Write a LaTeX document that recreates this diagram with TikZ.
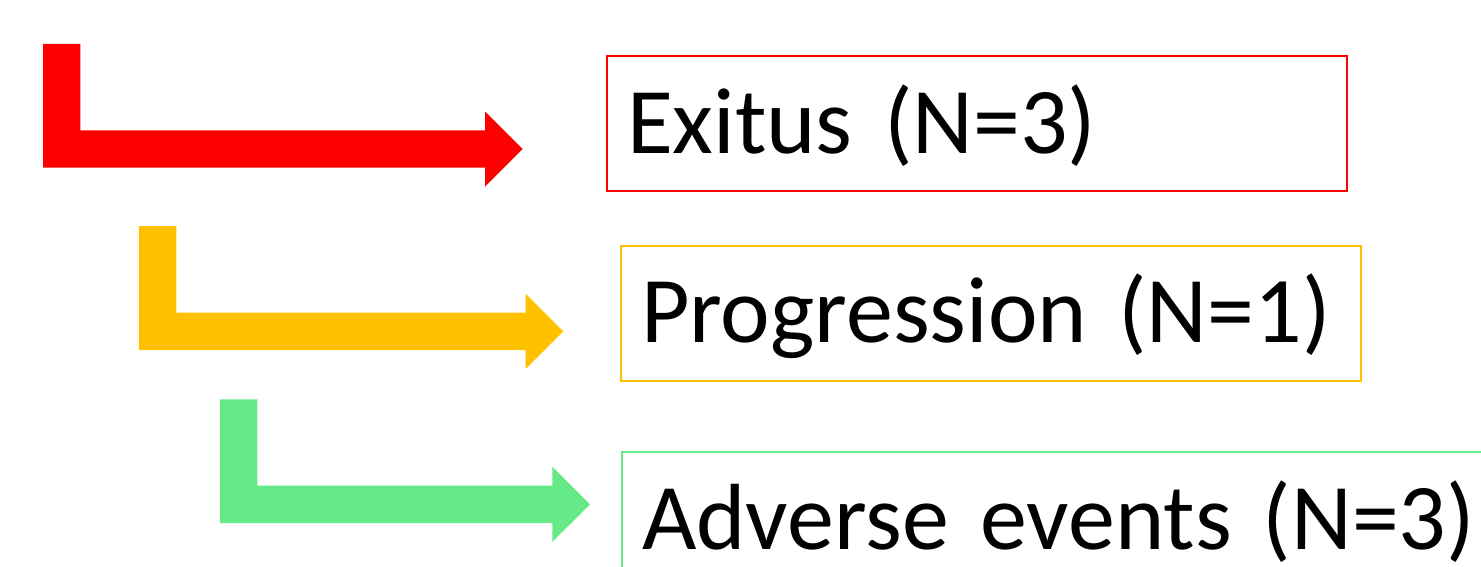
\documentclass[tikz,border=0pt]{standalone}
\usepackage{fontspec}
\setmainfont{Carlito}
\usepackage{tikz}
\usepackage{xcolor}
\definecolor{exitred}{HTML}{FF0000}
\definecolor{progyellow}{HTML}{FFC000}
\definecolor{advgreen}{HTML}{66EA88}

\begin{document}
\begin{tikzpicture}[x=1pt,y=-1pt,
    box/.style={draw=#1,line width=2pt,anchor=north west,inner xsep=20pt,inner ysep=0pt,
        minimum height=135pt,align=left,text height=70.5pt,text depth=11.1pt,
        font=\fontsize{94}{110}\selectfont}]
    \useasboundingbox (0,0) rectangle (1481,567);
    \clip (0,0) rectangle (1481,567);
    % bent arrows: left x / top y / middle y / tip x / colour
    \foreach \x/\t/\m/\e/\c in {43/44/149/522.7/exitred,
                               139/226/331.3/563.3/progyellow,
                               220/399.3/504.3/590/advgreen}
        \fill[\c] (\x,\t) -- ++(37.3,0) |- (\e-37.6,\m-18.7) -- (\e-37.6,\m-37.5)
            -- (\e,\m) -- (\e-37.6,\m+37.5) -- (\e-37.6,\m+18.7) -- (\x,\m+18.7) -- cycle;
    % outcome boxes
    \node[box=exitred, text width=700pt] (exitus) at (606,55) {Exitus (N=3)};
    \node[box=progyellow, text width=699.5pt] (progression) at (620,244.5) {Progression (N=1)};
    \node[box=advgreen, text width=840pt] (adverse) at (621,451) {Adverse events (N=3)};
\end{tikzpicture}
\end{document}
